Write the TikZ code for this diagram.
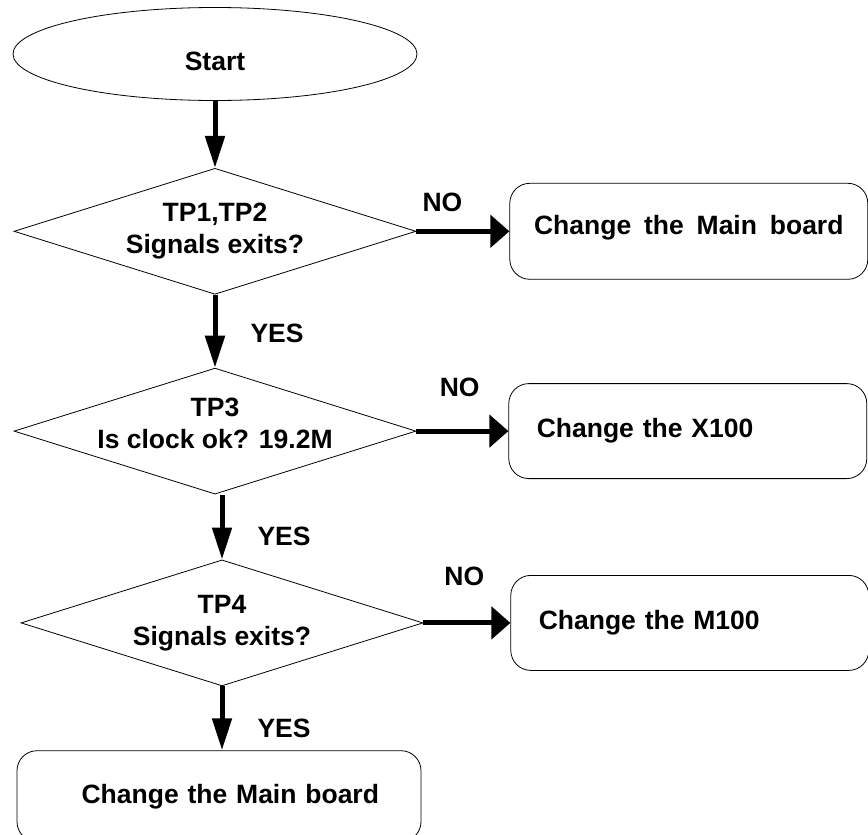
\documentclass[tikz,border=0pt]{standalone}
\usepackage{fontspec}
\setmainfont{Liberation Sans}
\usetikzlibrary{shapes.geometric,arrows.meta,positioning}

\begin{document}
\begin{tikzpicture}[x=1pt, y=-1pt,
    font=\fontsize{26.5}{32}\selectfont\bfseries,
    terminal/.style={ellipse, draw, line width=0.8pt, minimum width=404pt, minimum height=93pt},
    decision/.style={diamond, draw, line width=0.8pt, aspect=3.2, minimum width=402pt, minimum height=126pt, inner xsep=0pt, inner ysep=-8pt, align=center},
    action/.style={rectangle, draw, line width=0.8pt, rounded corners=20pt, minimum height=95pt, text width=302pt, inner xsep=28pt, align=left},
    vflow/.style={line width=5pt, -{Triangle[length=32pt, width=19pt]}},
    hflow/.style={line width=5pt, -{Triangle[length=19pt, width=32pt]}},
    answer/.style={inner sep=0pt}]
    \useasboundingbox (0,0) rectangle (868,835);

    % main column
    \node[terminal, text height=33pt, text depth=0pt] (start) at (215,54) {Start};
    \node[decision, below=67pt of start] (tp12) {TP1,TP2\\Signals exits?};
    \node[decision, text depth=16pt, below=73pt of tp12] (tp3) {TP3\\Is clock ok? 19.2M};
    \node[decision, below=65pt of tp3, xshift=7pt] (tp4) {TP4\\Signals exits?};
    \node[action, minimum height=91pt, text width=320pt, inner xsep=42pt, align=right, below=64pt of tp4, xshift=-3pt] (main2) {Change the Main board};

    % what to replace
    \node[action, align=center, minimum height=96pt, text width=330pt, inner xsep=14pt, text depth=12pt, right=93pt of tp12] (main1) {Change\hspace{4pt} the\hspace{4pt} Main\hspace{4pt} board};
    \node[action, right=92pt of tp3] (x100) {Change the X100};
    \node[action, right=87pt of tp4] (m100) {Change the M100};

    \draw[vflow] (start) -- (tp12);
    \draw[vflow] (tp12) -- node[answer, pos=0.53, right=33pt] (yes1) {YES} (tp3);
    \draw[vflow] (tp3.south -| tp4) -- node[answer, pos=0.65, right=33pt] (yes2) {YES} (tp4.north);
    \draw[vflow] (tp4.south) -- node[answer, pos=0.66, right=33pt] (yes3) {YES} (tp4.south |- main2.north);

    \draw[hflow] (tp12) -- node[answer, pos=0.28, above=17pt] (no1) {NO} (main1);
    \draw[hflow] (tp3) -- node[answer, pos=0.47, above=32pt] (no2) {NO} (x100);
    \draw[hflow] (tp4) -- node[answer, pos=0.47, above=35pt] (no3) {NO} (m100);
\end{tikzpicture}
\end{document}
